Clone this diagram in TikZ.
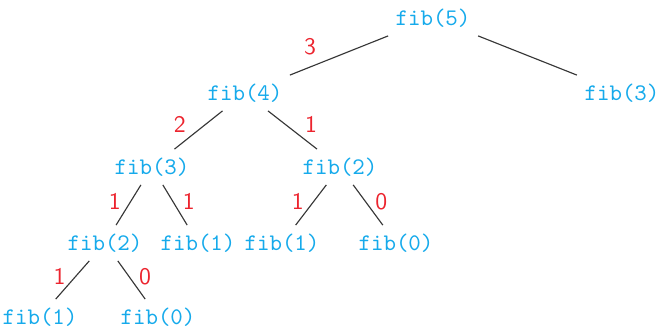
\documentclass[tikz,border=0pt]{standalone}

\definecolor{callblue}{RGB}{22, 170, 235}
\definecolor{countred}{RGB}{236, 36, 46}
\definecolor{edgegray}{RGB}{55, 55, 55}

\begin{document}
\begin{tikzpicture}[x=0.4375pt, y=-0.4375pt,
    call/.style={text=callblue, font=\fontsize{10.4}{12}\ttfamily, inner sep=3.6pt},
    cnt/.style={text=countred, font=\fontsize{10.4}{12}\sffamily, inner sep=2pt, pos=0.42},
    edge/.style={draw=edgegray, line width=0.5pt}]
    \useasboundingbox (0,0) rectangle (660,328);

    % Root and first level
    \node[call] (f5) at (433,18) {fib(5)};
    \node[call] (f4) at (245,93) {fib(4)};
    \node[call] (f3r) at (622,93) {fib(3)};

    % Second level
    \node[call] (f3) at (152,167) {fib(3)};
    \node[call] (f2r) at (340,167) {fib(2)};

    % Third level
    \node[call] (f2) at (105,243) {fib(2)};
    \node[call] (f1a) at (198,243) {fib(1)};
    \node[call] (f1b) at (282,243) {fib(1)};
    \node[call] (f0a) at (396,243) {fib(0)};

    % Leaves
    \node[call] (f1c) at (40,317) {fib(1)};
    \node[call] (f0b) at (158,317) {fib(0)};

    % Calls with their counts
    \draw[edge] (f5) -- node[cnt, left=10pt, yshift=3pt, pos=0.45] {3} (f4);
    \draw[edge] (f5) -- (f3r);
    \draw[edge] (f4) -- node[cnt, left=5pt, yshift=1pt] {2} (f3);
    \draw[edge] (f4) -- node[cnt, right=5pt, yshift=1pt] {1} (f2r);
    \draw[edge] (f3) -- node[cnt, left=2pt] {1} (f2);
    \draw[edge] (f3) -- node[cnt, right=2pt] {1} (f1a);
    \draw[edge] (f2r) -- node[cnt, left=2pt] {1} (f1b);
    \draw[edge] (f2r) -- node[cnt, right=2pt] {0} (f0a);
    \draw[edge] (f2) -- node[cnt, left=2pt] {1} (f1c);
    \draw[edge] (f2) -- node[cnt, right=2pt] {0} (f0b);
  \end{tikzpicture}
\end{document}
